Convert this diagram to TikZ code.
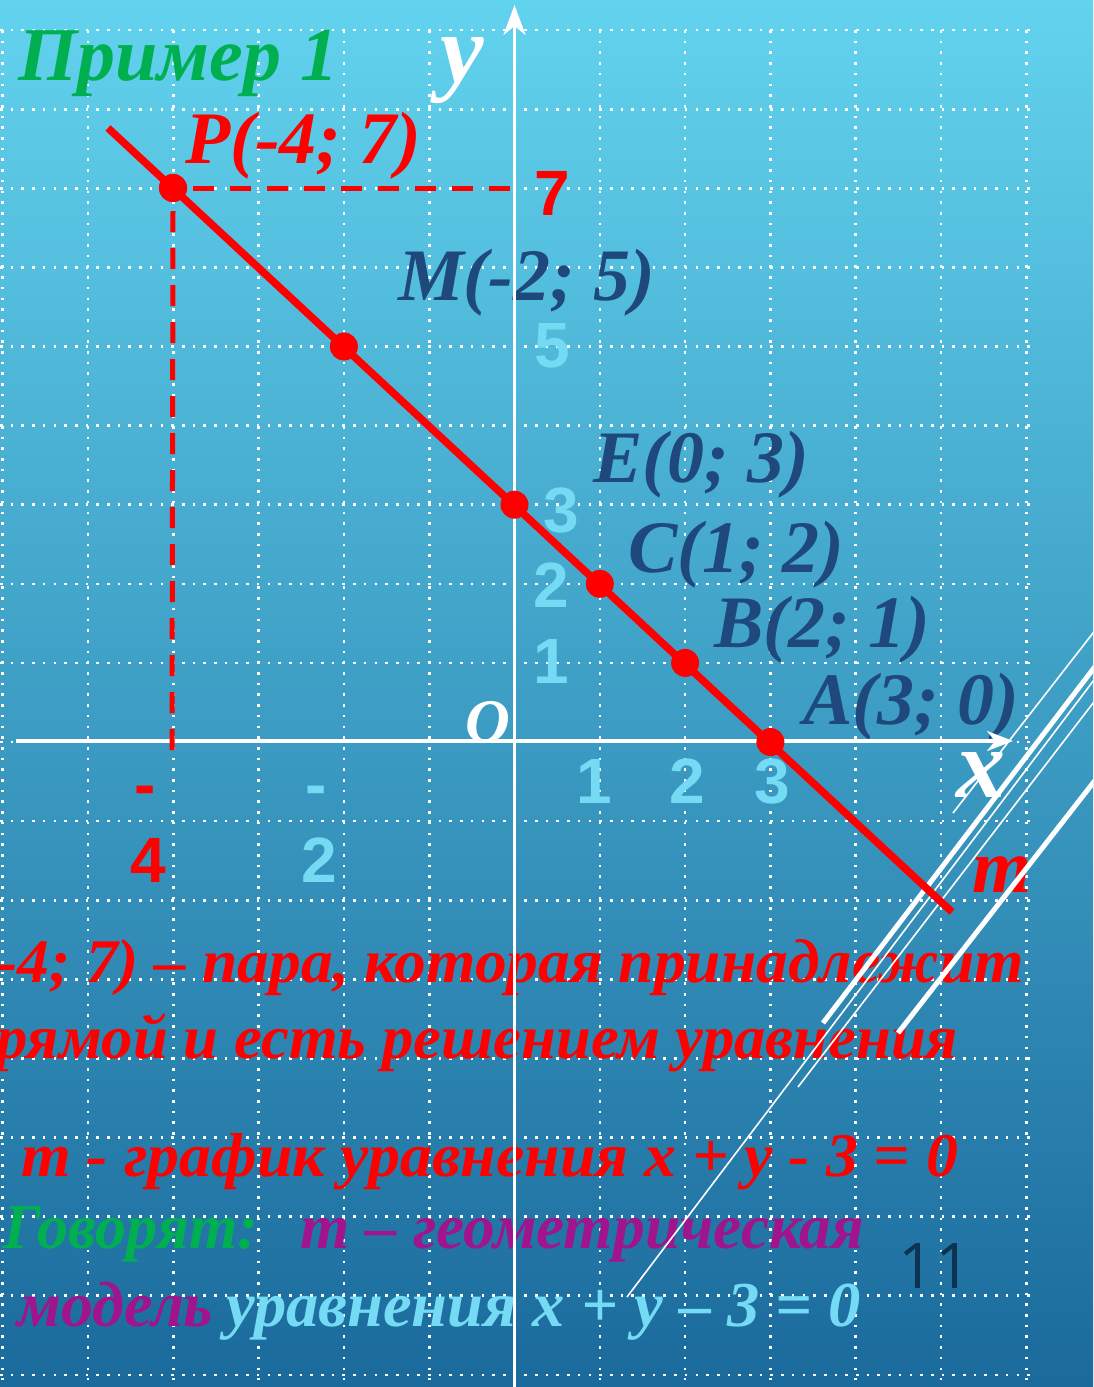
\documentclass[tikz,border=0pt]{standalone}
\usepackage{fontspec}
\usepackage{graphicx}
\setmainfont{Liberation Serif}
\setsansfont{Liberation Sans}
\newfontfamily\slidefont{Open Sans}
\usetikzlibrary{arrows.meta}
\definecolor{bgtop}{RGB}{98,211,238}
\definecolor{bgmid}{RGB}{62,165,205}
\definecolor{bgbot}{RGB}{26,106,156}
\definecolor{ptblue}{RGB}{31,73,125}
\definecolor{lcyan}{RGB}{117,218,243}
\definecolor{tgreen}{RGB}{0,176,80}
\definecolor{tpurple}{RGB}{160,21,140}
\definecolor{slidenum}{RGB}{12,52,80}
\begin{document}
\begin{tikzpicture}[x=1pt,y=-1pt,
  griddot/.style={white, line width=2.6pt, dash pattern=on 2.6pt off 8.1pt},
  ptlbl/.style={font=\bfseries\itshape\fontsize{74}{74}\selectfont, text=ptblue, inner sep=0pt, anchor=base west},
  axlbl/.style={font=\bfseries\itshape\fontsize{98}{98}\selectfont, text=white, inner sep=0pt, anchor=base west},
  digit/.style={font=\sffamily\bfseries\fontsize{64}{64}\selectfont, inner sep=0pt, anchor=base},
  btxt/.style={font=\bfseries\itshape\fontsize{62}{62}\selectfont, inner sep=0pt, anchor=base west},
  redpt/.style={circle, fill=red, minimum size=28pt, inner sep=0pt},
  axisline/.style={white, line width=3.5pt},
  thindeco/.style={white, line width=1.6pt},
  thickdeco/.style={white, line width=5pt},
  mline/.style={red, line width=7.5pt},
  reddash/.style={red, line width=5pt, dash pattern=on 21pt off 16pt}
]
\useasboundingbox (0,0) rectangle (1093,1387);
\clip (0,0) rectangle (1093,1387);
\shade[top color=bgtop, middle color=bgmid, bottom color=bgbot] (0,0) rectangle (1093,1387);

% grid
\foreach \k in {-6,...,6} \draw[griddot] ({514.5+85.3*\k},30) -- ({514.5+85.3*\k},1380);
\foreach \k in {-8,...,9} \draw[griddot] (0,{742-79.1*\k}) -- (1030,{742-79.1*\k});

% title
\node[font=\bfseries\itshape\fontsize{76}{76}\selectfont, text=tgreen, inner sep=0pt, anchor=base west] (title) at (18,80) {Пример 1};

% point labels
\node[ptlbl, text=red] (lP) at (185,163) {P(-4; 7)};
\node[ptlbl] (lM) at (398,300) {M(-2; 5)};
\node[ptlbl] (lE) at (593,482) {E(0; 3)};
\node[ptlbl] (lC) at (628,572) {C(1; 2)};
\node[ptlbl] (lB) at (714,647) {B(2; 1)};
\node[ptlbl] (lA) at (803,724) {A(3; 0)};

% axis digits
\node[digit, text=red] (y7) at (552,215) {7};
\node[digit, text=lcyan] (y5) at (552,367) {5};
\node[digit, text=lcyan] (y3) at (561,532) {3};
\node[digit, text=lcyan] (y2) at (551,607) {2};
\node[digit, text=lcyan] (y1) at (551,683) {1};
\node[digit, text=lcyan] (x1) at (594,803) {1};
\node[digit, text=lcyan] (x2) at (687,803) {2};
\node[digit, text=lcyan] (x3) at (772,803) {3};
\node[digit, text=red] (xm4a) at (145,806) {-};
\node[digit, text=red] (xm4b) at (148,882) {4};
\node[digit, text=lcyan] (xm2a) at (316,806) {-};
\node[digit, text=lcyan] (xm2b) at (319,882) {2};

% axis names
\node[axlbl] (ylab) at (440,82) {y};
\node[axlbl] (xlab) at (956,797) {x};
\node[axlbl, font=\bfseries\itshape\fontsize{62}{62}\selectfont] (olab) at (465,742) {O};
\node[axlbl, text=red, font=\bfseries\itshape\fontsize{76}{76}\selectfont] (mlab) at (972,892) {m};

% bottom text
\node[btxt, text=red] (b1) at (-4,982) {\resizebox{1028pt}{\height}{-4; 7) – пара, которая принадлежит}};
\node[btxt, text=red] (b2) at (-4,1058) {\resizebox{962pt}{\height}{рямой и есть решением уравнения}};
\node[btxt, text=red] (b3) at (21,1176) {\resizebox{937pt}{\height}{m - график уравнения x + y - 3 = 0}};
\node[btxt, text=tgreen, font=\bfseries\itshape\fontsize{64}{64}\selectfont] (b4a) at (3,1248) {\resizebox{255pt}{\height}{Говорят:}};
\node[btxt, text=tpurple, font=\bfseries\itshape\fontsize{64}{64}\selectfont] (b4b) at (300,1248) {\resizebox{564pt}{\height}{m – геометрическая}};
\node[btxt, text=tpurple, font=\bfseries\itshape\fontsize{64}{64}\selectfont] (b5a) at (17,1326) {\resizebox{196pt}{\height}{модель}};
\node[btxt, text=lcyan, font=\bfseries\itshape\fontsize{64}{64}\selectfont] (b5b) at (226,1326) {\resizebox{635pt}{\height}{уравнения x + y – 3 = 0}};

% slide number
\node[font=\slidefont\fontsize{63}{63}\selectfont, text=slidenum, inner sep=0pt, anchor=base] (num) at (935,1288) {11};

% decorative lines
\coordinate (d1a) at (953,813);  \coordinate (d1b) at (1100,624);
\coordinate (d2a) at (823,1023); \coordinate (d2b) at (1100,660);
\coordinate (d3a) at (627,1297); \coordinate (d3b) at (1100,672);
\coordinate (d4a) at (798,1087); \coordinate (d4b) at (1100,694);
\coordinate (d5a) at (898,1033); \coordinate (d5b) at (1100,774);
\draw[thindeco] (d1a) -- (d1b);
\draw[thickdeco] (d2a) -- (d2b);
\draw[thindeco] (d3a) -- (d3b);
\draw[thindeco] (d4a) -- (d4b);
\draw[thickdeco] (d5a) -- (d5b);

% axes
\coordinate (ybot) at (514.5,1390);
\coordinate (ytop) at (514.5,5);
\coordinate (xleft) at (16,741);
\coordinate (xright) at (1013,741);
\draw[axisline, -{Stealth[length=30pt,width=22pt,inset=9pt]}] (ybot) -- (ytop);
\draw[axisline, -{Stealth[length=26pt,width=20pt,inset=8pt]}] (xleft) -- (xright);

% red dashed guides, line m and its points
\coordinate (Py) at (514.5,188);
\coordinate (Px) at (172,750);
\coordinate (mstart) at (108,128);
\coordinate (mend) at (952,912);
\node[redpt] (P) at (173,188) {};
\draw[reddash] (P.east) ++(6,0) coordinate (Pe) (Pe) -- (Py);
\draw[reddash] (P.south) ++(0,9) coordinate (Ps) (Ps) -- (Px);
\draw[mline] (mstart) -- (mend);
\node[redpt] (M) at (343.9,346.5) {};
\node[redpt] (E) at (514.5,504.7) {};
\node[redpt] (C) at (599.8,583.8) {};
\node[redpt] (B) at (685.1,662.9) {};
\node[redpt] (A) at (770.4,742) {};
\node[redpt] (P2) at (P) {};
\end{tikzpicture}
\end{document}
